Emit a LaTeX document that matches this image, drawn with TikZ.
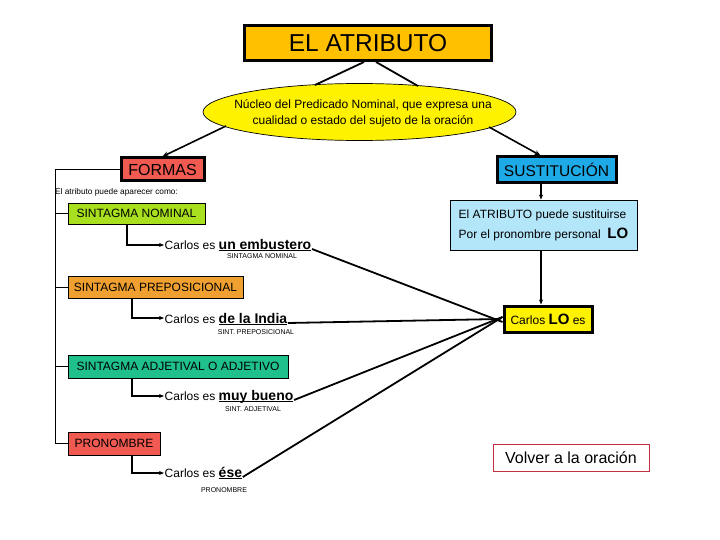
\documentclass[tikz,border=0pt]{standalone}
\usepackage{fontspec}
\setmainfont{Liberation Sans}
\usetikzlibrary{shapes.geometric,arrows.meta}
\definecolor{titleor}{HTML}{FFC000}
\definecolor{redbox}{HTML}{F05A50}
\definecolor{cyanbox}{HTML}{1EAAE6}
\definecolor{snbox}{HTML}{A8E020}
\definecolor{spbox}{HTML}{F0A030}
\definecolor{sabox}{HTML}{20C08C}
\definecolor{ltblue}{HTML}{B4E6FA}
\definecolor{volred}{HTML}{C03040}
\newcommand\myul[1]{\setbox0\hbox{#1}\rlap{\rule[-2.2pt]{\wd0}{1.3pt}}\box0}
\tikzset{
  thickbox/.style={rectangle, draw=black, line width=3pt, inner sep=0pt},
  thinbox/.style={rectangle, draw=black, line width=0.8pt, inner sep=0pt},
  arr/.style={line width=1.6pt, -{Stealth[length=6pt,width=5pt]}},
  sarr/.style={line width=1.4pt, -{Stealth[length=5pt,width=4pt]}},
  link/.style={line width=1.8pt},
  tree/.style={line width=0.9pt},
  ex/.style={anchor=base west, inner sep=0.5pt, font=\fontsize{12}{14}\selectfont},
  lbl/.style={inner sep=0pt, font=\fontsize{7}{8}\selectfont},
}
\begin{document}
\begin{tikzpicture}[x=1pt,y=-1pt]
\useasboundingbox[fill=white] (0,0) rectangle (720,540);

% title and ellipse
\node[thickbox, fill=titleor, minimum width=247, minimum height=35,
      font=\fontsize{24.5}{26}\selectfont] (title) at (368,43) {EL ATRIBUTO};
\node[ellipse, draw=black, line width=0.7pt, fill=yellow, minimum width=313, minimum height=57,
      inner sep=0pt] (nuc) at (359.5,112) {};
\node[align=center, inner sep=0pt, font=\fontsize{12}{16}\selectfont] (nuctext) at (363,113)
      {Núcleo del Predicado Nominal, que expresa una\\cualidad o estado del sujeto de la oración};
\coordinate (t1) at (364,62);
\coordinate (t2) at (376,62);
\coordinate (e1) at (315,85);
\coordinate (e2) at (418,86);
\draw[link] (t1) -- (e1);
\draw[link] (t2) -- (e2);

% FORMAS / SUSTITUCION
\node[thickbox, fill=redbox, minimum width=83, minimum height=23,
      font=\fontsize{16}{18}\selectfont] (formas) at (162.5,169.5) {FORMAS};
\node[thickbox, fill=cyanbox, minimum width=119, minimum height=26,
      font=\fontsize{15.5}{18}\selectfont] (sust) at (556.5,170) {SUSTITUCIÓN};
\coordinate (n1) at (226,126);
\coordinate (n2) at (489,127);
\draw[arr] (n1) -- (formas.north);
\draw[arr] (n2) -- ([xshift=-16pt]sust.north);

\node[anchor=west, inner sep=0pt, font=\fontsize{8.3}{10}\selectfont] (intro) at (55,192)
      {El atributo puede aparecer como:};

% left boxes
\node[thinbox, fill=snbox, minimum width=137, minimum height=21,
      font=\fontsize{12}{14}\selectfont] (sn) at (136.5,213.5) {SINTAGMA NOMINAL};
\node[thinbox, fill=spbox, minimum width=175, minimum height=22,
      font=\fontsize{12}{14}\selectfont] (sp) at (155.5,287) {SINTAGMA PREPOSICIONAL};
\node[thinbox, fill=sabox, minimum width=220, minimum height=23,
      font=\fontsize{12}{14}\selectfont] (sa) at (178,366.5) {SINTAGMA ADJETIVAL O ADJETIVO};
\node[thinbox, fill=redbox, minimum width=92, minimum height=23,
      font=\fontsize{12}{14}\selectfont] (pron) at (114,443.5) {PRONOMBRE};

% tree
\coordinate (tl) at (55,0);
\draw[tree] (formas.west) -- (formas.west -| tl) -- (pron.west -| tl) -- (pron.west);
\draw[tree] (sn.west -| tl) -- (sn.west);
\draw[tree] (sp.west -| tl) -- (sp.west);
\draw[tree] (sa.west -| tl) -- (sa.west);

% examples
\node[ex] (ex1) at (164,249) {Carlos es \myul{\fontsize{14}{16}\selectfont\bfseries un embustero}};
\node[ex] (ex2) at (164,323) {Carlos es \myul{\fontsize{14}{16}\selectfont\bfseries de la India}};
\node[ex] (ex3) at (164,400) {Carlos es \myul{\fontsize{14}{16}\selectfont\bfseries muy bueno}};
\node[ex] (ex4) at (164,477) {Carlos es \myul{\fontsize{14}{16}\selectfont\bfseries ése}};

\node[lbl] (l1) at (262,256) {SINTAGMA NOMINAL};
\node[lbl] (l2) at (256,332) {SINT. PREPOSICIONAL};
\node[lbl] (l3) at (253,409) {SINT. ADJETIVAL};
\node[lbl] (l4) at (224,490) {PRONOMBRE};

\coordinate (c1) at (127,0);
\coordinate (c2) at (132,0);
\coordinate (k1) at (0,245);
\coordinate (k2) at (0,318);
\coordinate (k3) at (0,396);
\coordinate (k4) at (0,473);
\draw[sarr] (sn.south -| c1) -- (k1 -| c1) -- (k1 -| ex1.west);
\draw[sarr] (sp.south -| c2) -- (k2 -| c2) -- (k2 -| ex2.west);
\draw[sarr] (sa.south -| c2) -- (k3 -| c2) -- (k3 -| ex3.west);
\draw[sarr] (pron.south -| c2) -- (k4 -| c2) -- (k4 -| ex4.west);

% right side
\node[thinbox, fill=ltblue, minimum width=187, minimum height=50, inner xsep=6pt,
      align=left, font=\fontsize{12}{20}\selectfont] (subs) at (543.5,225)
      {El ATRIBUTO puede sustituirse\\Por el pronombre personal \ {\fontsize{15}{15}\selectfont\bfseries LO}};
\node[thickbox, fill=yellow, minimum width=88, minimum height=26,
      font=\fontsize{12}{14}\selectfont] (lo) at (548,319)
      {Carlos {\fontsize{15}{15}\selectfont\bfseries LO} es};
\coordinate (ax) at (541,0);
\draw[sarr] (sust.south -| ax) -- (subs.north -| ax);
\draw[sarr] (subs.south -| ax) -- (lo.north -| ax);

\draw[link] (ex1.base east) -- ([yshift=-3pt]lo.west);
\draw[link] (ex2.base east) -- ([xshift=-2pt]lo.west);
\draw[link] (ex3.base east) -- ([yshift=2pt]lo.west);
\draw[link] (ex4.base east) -- ([yshift=2pt]lo.west);

\node[rectangle, draw=volred, line width=0.8pt, fill=white, minimum width=156, minimum height=27,
      inner sep=0pt, font=\fontsize{16}{18}\selectfont] (volver) at (571,457.5) {Volver a la oración};
\end{tikzpicture}
\end{document}
